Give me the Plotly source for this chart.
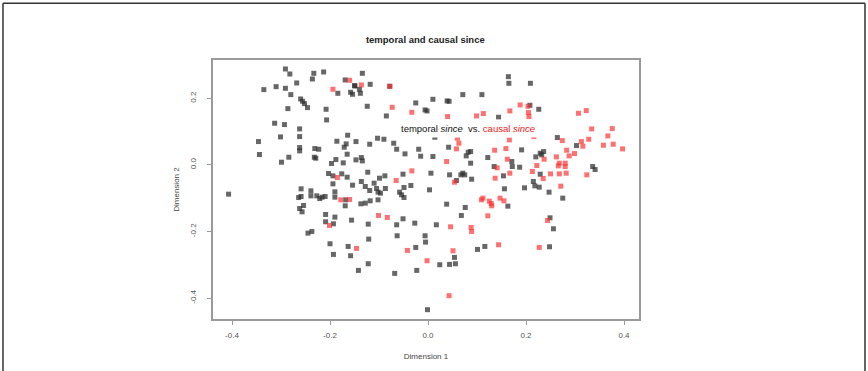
import plotly.graph_objects as go

# temporal "since" (black points)
temporal_x = [-0.291, -0.282, -0.233, -0.213, -0.236, -0.268, -0.310, -0.335, -0.291, -0.280,
              -0.169, -0.150, -0.184, -0.158, -0.154, -0.260, -0.256, -0.252, -0.246, -0.286,
              -0.208, -0.207, -0.313, -0.293, -0.262, -0.164, -0.346, -0.301, -0.262, -0.186,
              -0.167, -0.171, -0.147, -0.262, -0.262, -0.231, -0.223, -0.344, -0.284, -0.299,
              -0.232, -0.229, -0.165, -0.188, -0.197, -0.173, -0.147, -0.203, -0.194, -0.176,
              -0.165, -0.194, -0.259, -0.239, -0.134, -0.149, -0.140, -0.138, -0.118, -0.124,
              -0.085, -0.025, -0.006, -0.002, 0.010, 0.039, 0.043, 0.071, 0.110, 0.014,
              -0.119, -0.103, -0.090, -0.070, -0.064, -0.047, -0.019, -0.015, 0.010, 0.042,
              0.082, 0.087, 0.078, 0.122, 0.087, 0.135, -0.136, -0.134, -0.123, -0.051,
              -0.136, -0.128, -0.119, -0.110, -0.105, -0.102, -0.097, -0.087, -0.099, -0.088,
              -0.049, -0.035, -0.058, -0.054, -0.049, 0.006, 0.044, 0.067, 0.071, 0.075,
              0.058, 0.089, 0.003, 0.164, 0.165, 0.209, 0.208, 0.226, 0.144, 0.264,
              0.303, 0.191, 0.229, 0.236, 0.232, 0.220, 0.171, 0.172, 0.187, 0.229,
              0.154, 0.336, 0.341, 0.215, 0.218, 0.227, 0.197, 0.156, 0.247, 0.275,
              0.163, 0.249, 0.256, 0.248, 0.038, 0.076, 0.068, 0.017, -0.006, -0.005,
              0.101, 0.116, 0.054, 0.024, 0.044, 0.056, -0.001, -0.137, -0.128, -0.118,
              -0.102, -0.051, -0.064, -0.027, -0.122, -0.063, -0.121, -0.025, -0.122, -0.142,
              -0.068, -0.023, -0.407, -0.259, -0.264, -0.254, -0.262, -0.257, -0.239, -0.227,
              -0.221, -0.216, -0.210, -0.190, -0.190, -0.168, -0.169, -0.154, -0.209, -0.209,
              -0.190, -0.193, -0.245, -0.237, -0.156, -0.200, -0.163, -0.158, -0.193, -0.078]
temporal_y = [0.288, 0.273, 0.275, 0.279, 0.258, 0.246, 0.235, 0.226, 0.230, 0.211,
              0.255, 0.238, 0.215, 0.218, 0.212, 0.198, 0.191, 0.184, 0.172, 0.169,
              0.167, 0.135, 0.125, 0.121, 0.108, 0.089, 0.070, 0.084, 0.085, 0.071,
              0.063, 0.053, 0.070, 0.052, 0.042, 0.049, 0.047, 0.031, 0.023, 0.008,
              0.023, 0.020, 0.032, 0.016, 0.004, 0.006, 0.015, -0.026, -0.033, -0.027,
              -0.037, -0.057, -0.072, -0.078, 0.275, 0.237, 0.227, 0.215, 0.242, 0.176,
              0.147, 0.186, 0.165, 0.162, 0.197, 0.192, 0.191, 0.211, 0.211, 0.083,
              0.062, 0.080, 0.077, 0.065, 0.047, 0.033, 0.047, 0.026, 0.025, 0.053,
              0.038, 0.040, 0.027, 0.022, 0.005, -0.005, 0.022, 0.012, -0.022, -0.028,
              -0.050, -0.065, -0.077, -0.055, -0.071, -0.082, -0.085, -0.071, -0.040, -0.033,
              -0.068, -0.062, -0.082, -0.090, -0.098, -0.025, -0.030, -0.030, -0.025, -0.030,
              -0.047, -0.043, -0.075, 0.265, 0.245, 0.245, 0.179, 0.167, 0.143, 0.082,
              0.058, 0.045, 0.035, 0.040, 0.030, 0.024, 0.010, -0.005, -0.007, -0.028,
              -0.033, -0.005, -0.014, -0.050, -0.063, -0.067, -0.069, -0.072, -0.082, -0.100,
              -0.124, -0.159, -0.192, -0.246, -0.118, -0.128, -0.152, -0.180, -0.213, -0.232,
              -0.254, -0.245, -0.278, -0.300, -0.299, -0.297, -0.435, -0.117, -0.115, -0.108,
              -0.105, -0.162, -0.180, -0.175, -0.178, -0.213, -0.223, -0.248, -0.297, -0.317,
              -0.326, -0.317, -0.088, -0.095, -0.098, -0.122, -0.131, -0.141, -0.093, -0.093,
              -0.101, -0.097, -0.095, -0.081, -0.097, -0.105, -0.123, -0.061, -0.149, -0.171,
              -0.157, -0.177, -0.205, -0.200, -0.166, -0.237, -0.245, -0.273, -0.269, 0.236]

# causal "since" (red points)
causal_x = [-0.160, -0.194, -0.185, -0.136, -0.078, -0.073, -0.033, 0.040, 0.099, 0.113,
            0.060, 0.063, 0.058, 0.038, 0.136, 0.141, -0.033, -0.065, 0.054, 0.137,
            0.188, 0.204, 0.205, 0.206, 0.167, 0.307, 0.323, 0.334, 0.376, 0.367,
            0.358, 0.378, 0.397, 0.328, 0.313, 0.316, 0.283, 0.274, 0.299, 0.288,
            0.262, 0.166, 0.216, 0.159, 0.237, 0.162, 0.222, 0.268, 0.266, 0.280,
            0.280, 0.213, 0.250, 0.268, 0.282, 0.167, 0.324, 0.271, 0.235, 0.147,
            0.155, 0.244, 0.144, 0.227, 0.109, 0.112, 0.125, 0.129, 0.130, 0.122,
            0.046, 0.088, 0.089, 0.051, -0.002, 0.043, -0.101, -0.083, -0.146, -0.042,
            -0.178, -0.160, -0.201]
causal_y = [0.254, 0.227, -0.038, 0.240, 0.236, 0.173, 0.158, 0.145, 0.147, 0.154,
            0.080, 0.065, 0.048, 0.010, 0.044, -0.009, -0.018, -0.047, -0.052, -0.040,
            0.180, 0.176, 0.157, 0.145, 0.162, 0.155, 0.163, 0.108, 0.109, 0.087,
            0.059, 0.062, 0.048, 0.077, 0.070, 0.056, 0.044, 0.073, 0.034, 0.027,
            0.024, 0.075, 0.085, 0.049, 0.017, 0.017, -0.002, 0.005, -0.003, 0.005,
            -0.005, -0.020, -0.027, -0.027, -0.025, -0.025, -0.030, -0.064, -0.041, -0.100,
            -0.108, -0.167, -0.240, -0.248, -0.105, -0.100, -0.109, -0.116, -0.123, -0.153,
            -0.186, -0.188, -0.200, -0.258, -0.288, -0.393, -0.152, -0.158, -0.251, -0.257,
            -0.105, -0.104, -0.182]

x_ticks = [-0.4, -0.2, 0.0, 0.2, 0.4]
y_ticks = [-0.4, -0.2, 0.0, 0.2]

fig = go.Figure()
fig.add_trace(go.Scatter(x=temporal_x, y=temporal_y, mode="markers", name="temporal since",
                         marker=dict(symbol="square", size=5, color="rgba(45,45,45,0.72)",
                                     line=dict(width=0))))
fig.add_trace(go.Scatter(x=causal_x, y=causal_y, mode="markers", name="causal since",
                         marker=dict(symbol="square", size=5, color="rgba(255,45,45,0.68)",
                                     line=dict(width=0))))

fig.add_annotation(x=0.081, y=0.108, xref="x", yref="y", showarrow=False,
                   text="temporal <i>since</i>  vs. <span style='color:#ee2222'>causal <i>since</i></span>",
                   font=dict(family="Liberation Sans, Arial", size=9.5, color="#111"),
                   bgcolor="white", borderpad=3)

# outer frame (left, top, right)
frame = dict(type="line", xref="paper", yref="paper", line=dict(color="#333", width=1.5))
fig.add_shape(**frame, x0=-0.493, x1=-0.493, y0=1.219, y1=-0.25)
fig.add_shape(**frame, x0=-0.493, x1=1.5305, y0=1.219, y1=1.219)
fig.add_shape(**frame, x0=1.5305, x1=1.5305, y0=1.219, y1=-0.25)

axis_common = dict(showgrid=False, zeroline=False, showline=True, linecolor="#9a9a9a",
                   linewidth=1.5, mirror=True, ticks="outside", ticklen=4, tickwidth=1,
                   tickcolor="#9a9a9a", tickfont=dict(family="Liberation Sans, Arial", size=8, color="#555"))

fig.update_xaxes(**axis_common, range=[-0.4388, 0.4306], tickvals=x_ticks,
                 ticktext=[f"{v:.1f}" for v in x_ticks], ticklabelstandoff=4,
                 title=dict(text="Dimension 1", font=dict(family="Liberation Sans, Arial", size=8, color="#444"),
                            standoff=14))
fig.update_yaxes(**axis_common, range=[-0.463, 0.315], tickvals=y_ticks,
                 ticktext=[f"{v:.1f}" for v in y_ticks], tickangle=-90, ticklabelstandoff=8,
                 title=dict(text="Dimension 2", font=dict(family="Liberation Sans, Arial", size=8, color="#444"),
                            standoff=8))

fig.update_layout(
    width=868, height=371,
    margin=dict(l=213, r=229, t=60, b=52),
    paper_bgcolor="white", plot_bgcolor="white",
    showlegend=False,
    title=dict(text="<b>temporal and causal since</b>", x=0.49, xanchor="center", y=0.892, yanchor="middle",
               font=dict(family="Liberation Sans, Arial", size=9.5, color="#222")),
)

fig.write_html("out.html", config={"displayModeBar": False},
               post_script="document.body.style.margin='0';")
